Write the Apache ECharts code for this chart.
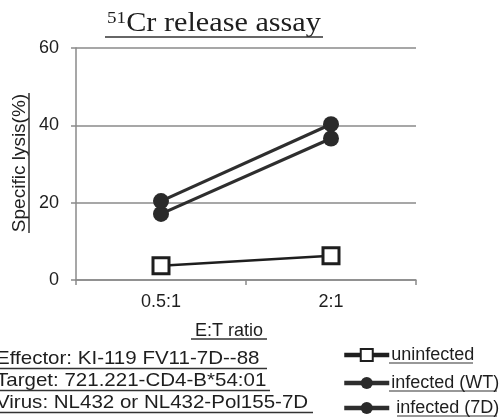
<!DOCTYPE html>
<html><head><meta charset="utf-8">
<script src="https://cdn.jsdelivr.net/npm/echarts@6/dist/echarts.min.js"></script>
<style>html,body{margin:0;padding:0;background:#fff}#c{width:499px;height:417px}</style>
</head><body><div id="c"></div>
<script>
const categories = ['0.5:1', '2:1'];
const uninfected = [3.7, 6.3];
const infectedWT = [17.1, 36.6];
const infected7D = [20.4, 40.3];
const yTicks = [0, 20, 40, 60];
const seriesNames = ['uninfected', 'infected (WT)', 'infected (7D)'];
const titleSup = '51';
const titleMain = 'Cr release assay';
const yName = 'Specific lysis(%)';
const xName = 'E:T ratio';
const noteLines = ['Effector: KI-119 FV11-7D--88', 'Target: 721.221-CD4-B*54:01', 'Virus: NL432 or NL432-Pol155-7D'];

const FONT = 'Liberation Sans, Arial, sans-serif';
const INK = '#1e1e1e';
const chart = echarts.init(document.getElementById('c'), null, {renderer: 'canvas'});

const noteY = [359, 381, 403];
const noteUl = [[0, 267, 368.5], [0, 270, 390.5], [0, 313, 412.5]];
const legendTop = [346, 374, 399];
const legendUl = [[389, 473, 363], [389, 497, 391], [397, 497, 416]];

const graphic = [
  {type: 'text', x: 214, y: 24, scaleX: 1.12, style: {
    text: '{sup|' + titleSup + '}{main|' + titleMain + '}', align: 'center', verticalAlign: 'middle',
    rich: {
      sup: {fontFamily: 'Liberation Serif, Times New Roman, serif', fontSize: 17, fill: INK, verticalAlign: 'top', lineHeight: 27},
      main: {fontFamily: 'Liberation Serif, Times New Roman, serif', fontSize: 27, fill: INK, lineHeight: 27}
    }
  }},
  {type: 'line', shape: {x1: 105, y1: 37, x2: 323, y2: 37}, style: {stroke: '#333', lineWidth: 1.5}},
  {type: 'text', x: 20, y: 163, rotation: Math.PI / 2, style: {
    text: yName, fontFamily: FONT, fontSize: 19, fill: INK, align: 'center', verticalAlign: 'middle'}},
  {type: 'line', shape: {x1: 29, y1: 93, x2: 29, y2: 233}, style: {stroke: '#333', lineWidth: 1.5}},
  {type: 'text', x: 229, y: 331, style: {
    text: xName, fontFamily: FONT, fontSize: 18, fill: INK, align: 'center', verticalAlign: 'middle'}},
  {type: 'line', shape: {x1: 191, y1: 339, x2: 267, y2: 339}, style: {stroke: '#333', lineWidth: 1.5}}
];
noteLines.forEach((t, i) => {
  graphic.push({type: 'text', x: -4, y: noteY[i], scaleX: 1.08, style: {
    text: t, fontFamily: FONT, fontSize: 19, fill: INK, align: 'left', verticalAlign: 'middle'}});
  graphic.push({type: 'line', shape: {x1: noteUl[i][0], y1: noteUl[i][2], x2: noteUl[i][1], y2: noteUl[i][2]},
    style: {stroke: '#333', lineWidth: 1.5}});
});
legendUl.forEach(u => {
  graphic.push({type: 'line', shape: {x1: u[0], y1: u[2], x2: u[1], y2: u[2]}, style: {stroke: '#333', lineWidth: 1.2}});
});

const legends = seriesNames.map((n, i) => ({
  orient: 'vertical', left: 342, top: legendTop[i], padding: 0,
  itemWidth: 45, itemHeight: 15, itemGap: 0,
  data: [n],
  formatter: s => (s === 'infected (7D)' ? ' ' + s : s),
  textStyle: {fontFamily: FONT, fontSize: 18, color: INK, padding: [0, 0, 0, -3]},
  lineStyle: {width: 4.5}
}));

const option = {
  animation: false,
  backgroundColor: '#fff',
  grid: {left: 76, right: 83, top: 48, bottom: 137, containLabel: false},
  legend: legends,
  xAxis: {
    type: 'category', data: categories, boundaryGap: true,
    axisLine: {show: true, lineStyle: {color: '#8a8a8a', width: 1.5}},
    axisTick: {show: true, length: 5, lineStyle: {color: '#8a8a8a', width: 1.5}},
    axisLabel: {fontFamily: FONT, fontSize: 18, color: INK, margin: 13},
    splitLine: {show: false}
  },
  yAxis: {
    type: 'value', min: 0, max: 60, interval: 20,
    axisLine: {show: true, lineStyle: {color: '#8a8a8a', width: 1.5}},
    axisTick: {show: true, length: 5, lineStyle: {color: '#8a8a8a', width: 1.5}},
    axisLabel: {fontFamily: FONT, fontSize: 18, color: INK, margin: 17,
      formatter: v => (yTicks.indexOf(v) > -1 ? String(v) : '')},
    splitLine: {show: true, lineStyle: {color: '#8a8a8a', width: 1.5}}
  },
  series: [
    {name: seriesNames[0], type: 'line', data: uninfected, symbol: 'rect', symbolSize: 16,
      itemStyle: {color: '#fff', borderColor: INK, borderWidth: 3},
      lineStyle: {color: INK, width: 2.5}, z: 3},
    {name: seriesNames[1], type: 'line', data: infectedWT, symbol: 'circle', symbolSize: 16,
      itemStyle: {color: '#2a2a2a'}, lineStyle: {color: '#2e2e2e', width: 3.2}, z: 3},
    {name: seriesNames[2], type: 'line', data: infected7D, symbol: 'circle', symbolSize: 16,
      itemStyle: {color: '#2a2a2a'}, lineStyle: {color: '#2e2e2e', width: 3.2}, z: 4}
  ],
  graphic: graphic
};
chart.setOption(option);
</script></body></html>
